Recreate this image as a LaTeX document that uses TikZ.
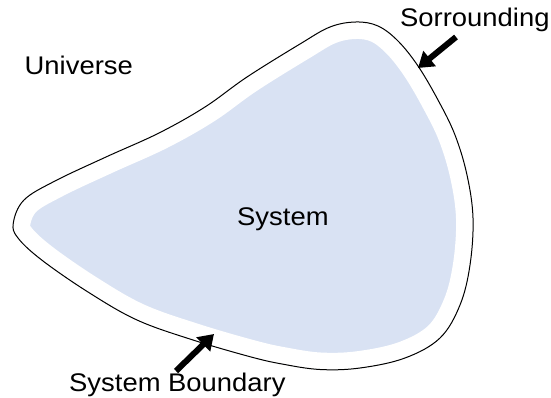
\documentclass[tikz,border=0pt]{standalone}
\usepackage{fontspec}
\setmainfont[FakeStretch=1.075]{Liberation Sans}
\usetikzlibrary{arrows.meta}
\definecolor{sysblue}{RGB}{217,226,243}
\tikzset{
  lbl/.style={anchor=base west, inner sep=0pt, font=\fontsize{25.5}{30}\selectfont},
  pointer/.style={line width=6pt, -{Triangle[length=15pt,width=19pt]}},
  outline/.style={draw=black, line width=1pt}
}
\begin{document}
\begin{tikzpicture}[x=1pt,y=-1pt]
\useasboundingbox (0,0) rectangle (551,398);
\def\shape{plot[smooth cycle, tension=0.6] coordinates {
  (356,22) (378,26) (398,41) (418,66) (438,100) (455,135) (467,175) (473,218)
  (470,265) (460,305) (440,338) (405,358) (360,368) (320,369.5) (282,364)
  (250,356.7) (193,340) (137,320) (88,292) (41.7,260) (18,238) (13.3,223)
  (24,200) (55,181) (106,157) (159,133) (205,107) (247,77) (300,44) (330,27)}}
\fill[sysblue] \shape;
\begin{scope}
  \clip \shape;
  \draw[white, line width=34pt] \shape;
\end{scope}
\draw[outline] \shape;
\node[lbl] (universe) at (24.5,75) {Universe};
\node[lbl] (system) at (237,225) {System};
\node[lbl] (sur) at (400,26.5) {Sorrounding};
\node[lbl] (bound) at (69,391.5) {System Boundary};
\coordinate (surtail) at (456,37);
\coordinate (surtip) at (418,68);
\coordinate (btail) at (176,371);
\coordinate (btip) at (214,334);
\draw[pointer] (surtail) -- (surtip);
\draw[pointer] (btail) -- (btip);
\end{tikzpicture}
\end{document}
